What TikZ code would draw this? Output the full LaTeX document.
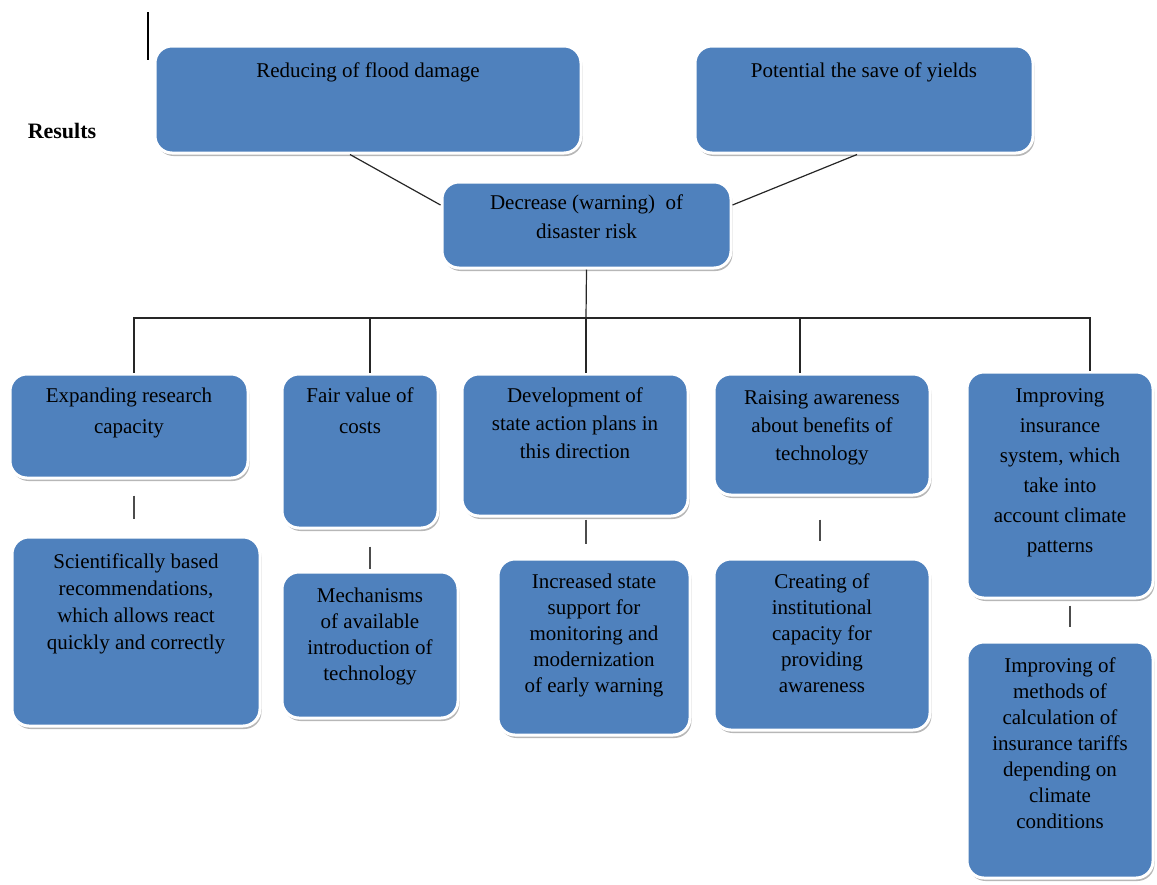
\documentclass[tikz,border=0pt]{standalone}
\usepackage{fontspec}
\setmainfont{Liberation Serif}
\usetikzlibrary{shadows}
\definecolor{boxblue}{HTML}{4F81BD}
\tikzset{
  panel/.style={rectangle, rounded corners=17pt, fill=boxblue, draw=white,
    line width=3pt, inner sep=0pt, text=black,
    drop shadow={shadow xshift=1.5pt, shadow yshift=-3pt, opacity=0.4, fill=black!70}},
  link/.style={draw=black!85, line width=1.2pt},
  tick/.style={draw=black!70, line width=2pt}
}
% #1 name, #2-#5 corners (x1,y1,x2,y2), #6 first baseline, #7 line spacing, #8 text
\newcommand\flowbox[8]{%
  \node[panel] (#1) at ({(#2+#4)/2},{(#3+#5)/2})
    {\parbox[c][\dimexpr #5pt-#3pt\relax][t]{\dimexpr #4pt-#2pt\relax}%
      {\centering\fontsize{21}{#7}\selectfont\rule{0pt}{#6pt}#8\par}};}
\begin{document}
\begin{tikzpicture}[x=1pt, y=-1pt]
\useasboundingbox (0,0) rectangle (1157,884);

% top marker
\coordinate (markTop) at (148,12);
\coordinate (markBot) at (148,60);
\draw[line width=1.2pt] (markTop) -- (markBot);

\node[font=\bfseries\fontsize{22}{26}\selectfont, inner sep=0pt] (res) at (62,131) {Results};

% results
\flowbox{A}{155}{46}{581}{153}{31}{26}{Reducing of flood damage}
\flowbox{B}{695}{46}{1033}{153}{31}{26}{Potential the save of yields}
\flowbox{C}{442}{182}{731}{268}{27}{29}{Decrease (warning)\ \ of\\disaster risk}

% measures
\flowbox{D}{10}{374}{248}{478}{28}{31}{Expanding research\\capacity}
\flowbox{E}{282}{374}{438}{528}{28}{31}{Fair value of\\costs}
\flowbox{F}{462}{374}{688}{516}{28}{28}{Development of\\state action plans in\\this direction}
\flowbox{G}{714}{374}{930}{495}{30}{28}{Raising awareness\\about benefits of\\technology}
\flowbox{H}{967}{372}{1153}{598}{30}{30}{Improving\\insurance\\system, which\\take into\\account climate\\patterns}

% outcomes
\flowbox{I}{12}{537}{260}{726}{31}{27}{Scientifically based\\recommendations,\\which allows react\\quickly and correctly}
\flowbox{J}{282}{572}{458}{718}{30}{26}{Mechanisms\\of available\\introduction of\\technology}
\flowbox{K}{498}{559}{690}{735}{29}{26}{Increased state\\support for\\monitoring and\\modernization\\of early warning}
\flowbox{L}{714}{559}{930}{730}{29}{26}{Creating of\\institutional\\capacity for\\providing\\awareness}
\flowbox{M}{967}{642}{1153}{878}{30}{26}{Improving of\\methods of\\calculation of\\insurance tariffs\\depending on\\climate\\conditions}

% upper links
\draw[link] (A.south -| 350,0) -- (C.west |- 0,205);
\draw[link] (B.south -| 857,0) -- (C.east |- 0,205);

% branching bus
\coordinate (bus) at (586,318);
\draw[link] (C.south) -- (bus);
\draw[link] (bus) -| (D.north -| 134,0);
\draw[link] (bus) -| (E.north -| 370,0);
\draw[link] (bus) -- (F.north -| 586,0);
\draw[link] (bus) -| (G.north -| 800,0);
\draw[link] (bus) -| (H.north -| 1090,0);

% short links between rows
\draw[tick, shorten <=16pt, shorten >=17pt] (D.south -| 134,0) -- (I.north -| 134,0);
\draw[tick, shorten <=17pt, shorten >=2pt] (E.south -| 370,0) -- (J.north -| 370,0);
\draw[tick, shorten <=2pt, shorten >=14pt] (F.south -| 586,0) -- (K.north -| 586,0);
\draw[tick, shorten <=23pt, shorten >=17pt] (G.south -| 820,0) -- (L.north -| 820,0);
\draw[tick, shorten <=6pt, shorten >=14pt] (H.south -| 1070,0) -- (M.north -| 1070,0);
\end{tikzpicture}
\end{document}
